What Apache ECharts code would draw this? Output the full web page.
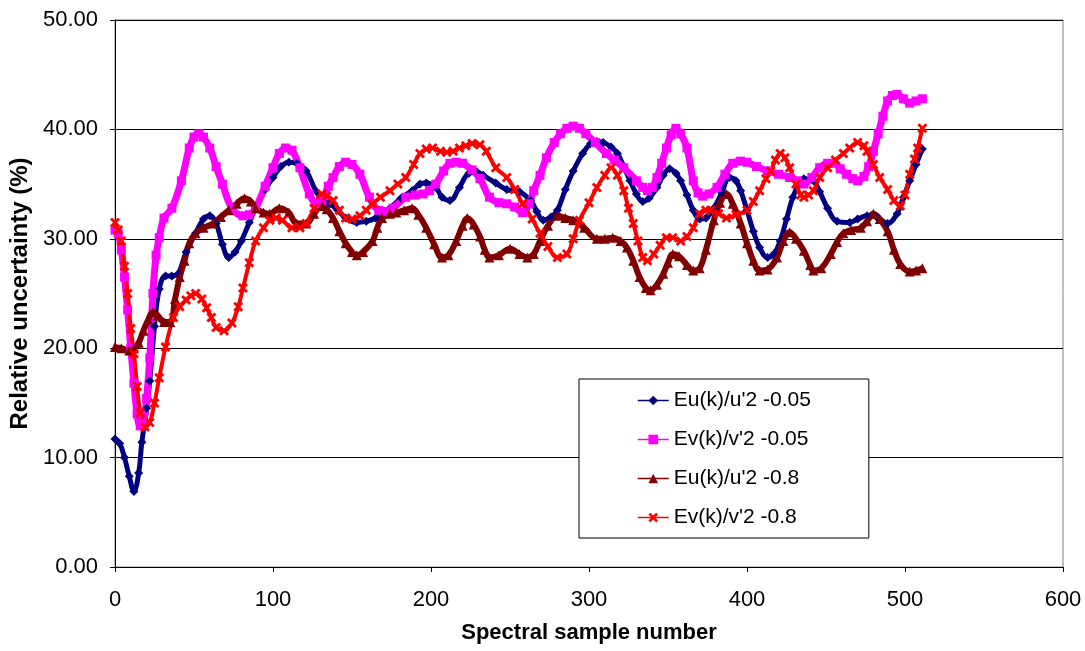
<!DOCTYPE html>
<html>
<head>
<meta charset="utf-8">
<script src="https://cdn.jsdelivr.net/npm/echarts@6/dist/echarts.min.js"></script>
<style>
  html, body { margin: 0; padding: 0; background: #fff; }
  #chart { width: 1085px; height: 651px; }
</style>
</head>
<body>
<div id="chart"></div>
<script>
  // values: [sample number, relative uncertainty %]
  const euLow = [[0,11.7],[3,11.3],[6,10],[9,8.3],[12,6.9],[15,8.6],[17,11.4],[20,14.5],[22,17],[25,22],[28,25.4],[32,26.6],[36,26.6],[40,26.8],[45,28.8],[51,30.5],[56,31.8],[60,32.1],[64,31.4],[68,29.5],[72,28.3],[76,28.8],[80,29.8],[85,31.5],[89,32.8],[95,34.5],[100,35.6],[105,36.6],[110,37.0],[115,36.9],[121,36.2],[127,34.4],[131,33.6],[136,33.2],[141,32.6],[146,31.9],[153,31.5],[159,31.6],[165,31.9],[174,32.8],[181,33.7],[188,34.4],[193,35.0],[197,35.1],[203,34.7],[207,33.8],[212,33.5],[218,34.7],[224,36.0],[229,36.1],[233,35.8],[241,35.1],[248,34.5],[256,34.3],[263,33.5],[267,32.5],[271,31.7],[276,32.0],[280,32.6],[285,34.5],[290,36.2],[296,37.8],[301,38.7],[305,38.9],[309,38.8],[314,38.4],[318,37.8],[322,36.6],[326,35.3],[330,34.1],[334,33.4],[338,33.7],[343,34.7],[347,35.8],[351,36.4],[355,36.0],[358,35.3],[362,34.0],[366,32.6],[370,31.8],[374,31.9],[379,32.8],[384,34.2],[389,35.6],[393,35.3],[396,34.4],[400,32.6],[404,30.7],[408,29.2],[413,28.3],[417,28.6],[421,29.8],[425,31.8],[429,33.8],[433,35.0],[436,35.5],[442,35.3],[446,34.3],[451,32.8],[457,31.6],[465,31.5],[470,31.8],[476,32.1],[482,32.0],[489,31.4],[495,32.3],[499,33.8],[503,35.3],[507,36.8],[511,38.2]];

  const evLow = [[0,30.8],[2,30.5],[4,29.0],[6,26.5],[8,23.5],[10,20],[12,16.8],[14,14.0],[16,12.9],[18,13.1],[20,15.4],[22,19.1],[24,25.0],[26,28.5],[28,30.1],[31,31.9],[36,32.8],[42,35.3],[47,38.3],[50,39.3],[53,39.6],[56,39.3],[60,38.3],[64,36.6],[68,35.0],[74,32.8],[81,32.1],[85,32.2],[89,32.8],[95,34.8],[100,36.5],[104,37.8],[108,38.3],[112,38.1],[117,36.5],[123,34.1],[128,33.2],[131,33.5],[135,34.8],[138,35.6],[142,36.6],[146,37.0],[150,36.8],[155,35.9],[161,33.8],[167,32.6],[172,32.5],[176,32.8],[184,33.8],[190,34.0],[195,34.1],[199,34.4],[203,35.0],[208,36.2],[212,36.9],[216,37.0],[220,36.9],[226,36.3],[231,35.5],[237,33.8],[243,33.3],[248,33.2],[253,32.9],[258,32.4],[262,33.2],[265,34.4],[269,35.8],[273,37.4],[278,38.8],[282,39.6],[286,40.1],[290,40.3],[294,40.1],[298,39.6],[304,38.8],[311,37.8],[316,37.2],[322,36.5],[330,35.3],[334,34.7],[337,34.4],[340,34.7],[343,35.6],[346,36.9],[349,38.3],[352,39.5],[355,40.1],[358,39.6],[362,38.3],[366,35.3],[369,34.2],[372,33.9],[376,34.1],[381,34.7],[386,35.9],[391,36.9],[396,37.1],[400,37.0],[406,36.6],[413,36.2],[420,35.9],[427,35.6],[432,35.3],[436,35.0],[441,35.6],[446,36.5],[451,36.9],[455,36.9],[459,36.4],[463,35.9],[467,35.5],[470,35.3],[474,35.7],[477,36.6],[480,38.0],[483,39.6],[486,41.2],[489,42.6],[492,43.1],[495,43.2],[499,42.8],[503,42.4],[507,42.6],[511,42.8]];

  const euHigh = [[0,20.1],[4,20.0],[9,19.8],[12,20.0],[15,20.5],[18,21.6],[21,22.6],[24,23.3],[27,23.0],[31,22.4],[35,22.4],[38,24.5],[41,26.5],[44,28.0],[47,29.6],[51,30.5],[56,31.0],[62,31.4],[67,32.0],[72,32.6],[77,33.2],[82,33.7],[86,33.4],[89,32.8],[94,32.4],[98,32.3],[104,32.8],[110,32.4],[115,31.4],[121,31.4],[126,32.3],[131,33.0],[134,32.7],[138,31.9],[142,30.7],[146,29.6],[150,28.8],[153,28.5],[157,28.8],[163,29.8],[166,31.0],[169,31.9],[174,32.3],[178,32.4],[183,32.6],[188,32.8],[192,32.2],[197,31.0],[202,29.5],[207,28.3],[211,28.5],[216,29.8],[220,31.2],[223,31.9],[227,31.3],[231,30.2],[234,29.0],[237,28.3],[243,28.5],[250,29.1],[256,28.6],[261,28.3],[265,28.6],[269,29.8],[274,31.2],[280,32.1],[285,31.9],[290,31.7],[297,31.0],[305,30.0],[310,30.0],[315,30.1],[320,29.8],[324,29.2],[328,28.0],[332,26.5],[336,25.5],[339,25.3],[343,25.8],[347,26.8],[350,27.8],[353,28.6],[357,28.4],[362,27.6],[366,27.1],[370,27.3],[374,29.0],[379,31.7],[383,33.3],[387,34.1],[391,33.2],[396,31.4],[400,29.6],[404,28.0],[408,27.1],[413,27.2],[419,28.3],[423,29.8],[427,30.6],[431,30.0],[436,28.9],[440,27.6],[442,27.1],[447,27.3],[453,28.6],[457,29.7],[461,30.5],[466,30.8],[472,31.0],[476,31.6],[480,32.3],[484,31.8],[489,30.7],[493,29.0],[497,27.7],[503,27.0],[507,27.1],[511,27.3]];

  const evHigh = [[0,31.5],[2,30.8],[4,29.8],[6,27.5],[8,25.0],[10,21.8],[12,19.5],[14,16.5],[16,14.1],[19,12.8],[22,13.2],[25,15.0],[28,17.3],[32,20.1],[37,22.8],[41,23.8],[45,24.4],[48,24.8],[51,25.0],[55,24.5],[58,23.7],[61,22.8],[64,21.9],[69,21.6],[74,22.3],[78,23.8],[81,25.5],[85,27.8],[89,29.8],[94,31.0],[98,31.7],[102,31.9],[106,31.7],[112,31.0],[117,31.0],[121,31.4],[126,32.8],[131,34.1],[134,33.9],[138,33.5],[142,32.6],[146,31.9],[150,31.8],[155,32.1],[159,32.6],[163,33.2],[168,33.8],[174,34.4],[179,35.0],[184,35.6],[189,36.8],[193,37.8],[197,38.2],[201,38.3],[206,38.0],[210,37.9],[214,38.0],[218,38.3],[222,38.5],[226,38.7],[231,38.6],[235,38.0],[241,36.5],[248,35.6],[253,34.5],[258,33.2],[264,31.8],[269,30.5],[274,29.3],[280,28.3],[286,28.6],[290,30.0],[294,31.7],[300,33.3],[305,34.7],[310,35.8],[314,36.5],[318,35.8],[322,34.4],[325,32.8],[328,31.4],[331,29.8],[334,28.3],[337,28.0],[341,28.6],[345,29.4],[349,30.1],[353,30.1],[358,29.8],[362,30.2],[366,31.0],[370,32.3],[374,32.6],[377,32.6],[382,32.3],[387,31.9],[393,32.2],[400,32.6],[404,33.4],[408,34.4],[412,35.5],[415,36.2],[418,37.2],[421,37.8],[424,37.4],[427,36.5],[431,35.0],[434,34.0],[436,33.8],[439,34.0],[442,34.4],[446,35.6],[451,36.5],[456,37.2],[461,37.8],[465,38.3],[470,38.8],[474,38.5],[476,38.0],[480,36.8],[484,35.6],[489,34.5],[493,33.5],[497,33.0],[500,34.0],[503,35.9],[506,37.3],[508,38.3],[511,40.1]];

  const seriesNames = ["Eu(k)/u'2 -0.05", "Ev(k)/v'2 -0.05", "Eu(k)/u'2 -0.8", "Ev(k)/v'2 -0.8"];
  const xTicks = { min: 0, max: 600, step: 100 };
  const yTicks = { min: 0, max: 50, step: 10 };

  const crossPath = 'path://M2,0L5,3L8,0L10,2L7,5L10,8L8,10L5,7L2,10L0,8L3,5L0,2Z';
  const font = 'Liberation Sans, Arial, sans-serif';

  function makeSeries(name, data, color, symbol, size, width) {
    return {
      name: name,
      type: 'line',
      data: data,
      smooth: 0.4,
      symbol: symbol,
      symbolSize: size,
      showAllSymbol: true,
      itemStyle: { color: color },
      lineStyle: { color: color, width: width },
      emphasis: { disabled: true },
      animation: false
    };
  }

  const chart = echarts.init(document.getElementById('chart'));

  chart.setOption({
    backgroundColor: '#fff',
    textStyle: { fontFamily: font },
    grid: {
      left: 115, right: 22, top: 20, bottom: 84,
      show: true, borderColor: '#808080', borderWidth: 1
    },
    legend: {
      orient: 'vertical',
      left: 579, top: 379,
      padding: [11, 58, 10, 58],
      backgroundColor: '#fff',
      borderColor: '#000',
      borderWidth: 1,
      itemWidth: 31,
      itemHeight: 12,
      itemGap: 18,
      lineStyle: { width: 1.5 },
      textStyle: { fontSize: 21, color: '#000', fontFamily: font, lineHeight: 20 },
      data: seriesNames
    },
    xAxis: {
      type: 'value',
      min: xTicks.min, max: xTicks.max, interval: xTicks.step,
      name: 'Spectral sample number',
      nameLocation: 'middle',
      nameGap: 55,
      nameTextStyle: { fontSize: 22, fontWeight: 'bold', color: '#000', fontFamily: font },
      axisLine: { lineStyle: { color: '#000', width: 1 } },
      axisTick: { show: true, length: 5, lineStyle: { color: '#000' } },
      axisLabel: { fontSize: 22, color: '#000', margin: 22 },
      splitLine: { show: false }
    },
    yAxis: {
      type: 'value',
      min: yTicks.min, max: yTicks.max, interval: yTicks.step,
      name: 'Relative uncertainty (%)',
      nameLocation: 'middle',
      nameGap: 82,
      nameTextStyle: { fontSize: 24, fontWeight: 'bold', color: '#000', fontFamily: font },
      axisLine: { show: true, lineStyle: { color: '#000', width: 1 } },
      axisTick: { show: true, length: 5, lineStyle: { color: '#000' } },
      axisLabel: {
        fontSize: 22, color: '#000', margin: 17,
        formatter: v => v.toFixed(2)
      },
      splitLine: { show: true, lineStyle: { color: '#000', width: 1 } }
    },
    series: [
      makeSeries(seriesNames[0], euLow, '#000080', 'diamond', 9, 5),
      makeSeries(seriesNames[1], evLow, '#ff00ff', 'rect', 9, 7),
      makeSeries(seriesNames[2], euHigh, '#800000', 'triangle', 10, 6),
      makeSeries(seriesNames[3], evHigh, '#ff0000', crossPath, 10, 4)
    ]
  });
</script>
</body>
</html>
